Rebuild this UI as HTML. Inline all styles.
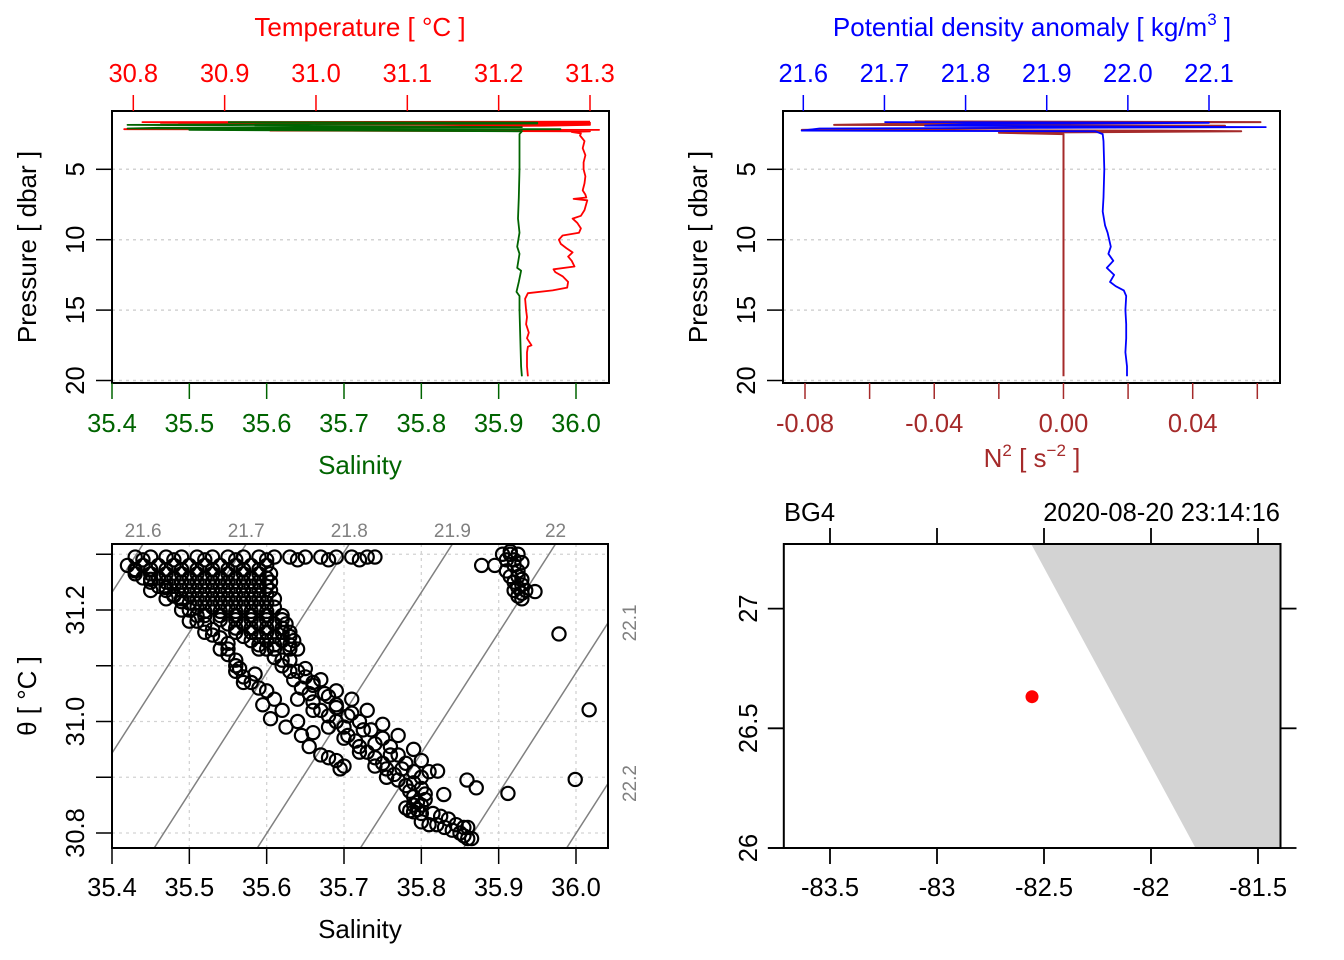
<!DOCTYPE html>
<html><head><meta charset="utf-8"><style>
html,body{margin:0;padding:0;background:#fff;width:1344px;height:960px;overflow:hidden}
svg{display:block;font-family:"Liberation Sans",Arial,sans-serif}
</style></head><body>
<svg id="fig" xmlns="http://www.w3.org/2000/svg" width="1344" height="960" viewBox="0 0 1344 960">
<g id="p1"></g>
<g id="p2"></g>
<g id="p3"></g>
<g id="p4"></g>
</svg>
<script>
// ---------- data ----------
const tempPressure = [1.62,1.65,1.68,1.7,1.72,1.75,1.78,1.8,1.85,1.9,2.15,2.2,2.25,2.3,2.35,2.45,2.6,3,3.5,4,4.5,5,5.5,6,6.5,6.8,7.0,7.1,7.2,7.9,8.3,8.5,8.8,9.2,9.5,9.7,10.0,10.3,10.6,10.9,11.2,11.5,11.9,12.1,12.3,12.6,13.0,13.4,13.6,13.8,14.2,15,15.5,16,16.6,17,17.5,17.6,18,19,19.7];
const tempValues = [31.30,30.81,31.30,30.83,31.30,30.85,31.30,31.00,31.30,31.25,30.79,31.31,30.95,31.30,31.28,31.29,31.289,31.294,31.292,31.295,31.293,31.293,31.295,31.294,31.292,31.295,31.296,31.282,31.297,31.294,31.29,31.281,31.286,31.29,31.288,31.27,31.266,31.268,31.274,31.281,31.276,31.28,31.283,31.26,31.262,31.27,31.276,31.275,31.259,31.232,31.229,31.23,31.231,31.23,31.233,31.231,31.236,31.232,31.231,31.231,31.232];
const salPressure = [1.65,1.68,1.7,1.75,1.8,1.85,2.0,2.05,2.1,2.15,2.2,2.3,2.5,3,5,7,8.5,9.5,10.5,11,12,12.2,13,13.7,14,15,17,19,19.7];
const salValues = [35.55,35.95,35.70,35.95,35.60,35.42,35.93,35.46,35.42,35.98,35.5,35.93,35.927,35.927,35.927,35.926,35.925,35.927,35.924,35.927,35.924,35.929,35.926,35.923,35.927,35.927,35.928,35.929,35.930];
const sigPressure = [1.65,1.7,1.8,1.9,2.0,2.05,2.1,2.25,2.3,2.5,3,5,7,8,9,9.5,10,10.5,11,11.5,12,12.5,13,13.3,13.6,14,15,16,17,18,19,19.7];
const sigValues = [21.70,22.10,21.80,21.75,22.17,21.90,21.62,21.598,21.96,21.969,21.970,21.971,21.970,21.969,21.972,21.975,21.977,21.979,21.976,21.982,21.974,21.983,21.978,21.985,21.995,21.998,21.997,21.998,21.998,21.997,21.999,21.999];
const n2Pressure = [1.6,1.65,1.7,1.85,1.9,2.2,2.25,2.3,2.4,2.5,3,19.7];
const n2Values = [-0.046,0.061,-0.03,-0.071,0.050,-0.081,0.03,0.055,-0.02,0,0,0];
// TS diagram observations (salinity, potential temperature)
const tsSalinity = [
35.43,35.45,35.47,35.49,35.51,35.53,35.55,35.57,35.59,35.61,35.63,35.65,35.67,35.69,35.71,35.73,35.74,
35.44,35.48,35.52,35.56,35.60,35.64,35.68,35.72,
35.42,35.44,35.46,35.48,35.50,35.52,35.54,35.56,35.58,35.60,
35.43,35.45,35.47,35.49,35.51,35.53,35.55,35.57,35.59,35.605,
35.45,35.47,35.49,35.51,35.53,35.55,35.57,35.59,35.605,
35.47,35.49,35.51,35.53,35.55,35.57,35.59,35.605,
35.49,35.51,35.53,35.55,35.57,35.59,35.61,
35.51,35.53,35.55,35.57,35.59,35.61,
35.52,35.54,35.56,35.58,35.60,35.62,
35.55,35.57,35.59,35.61,35.625,
35.56,35.58,35.60,35.62,35.63,
35.58,35.60,35.62,35.635,
35.59,35.61,35.63,35.64,
35.43,35.45,35.47,35.48,35.49,35.50,35.51,35.52,35.53,35.54,35.55,35.55,35.56,35.565,35.57,35.58,35.585,35.59,35.60,35.595,35.61,35.605,35.62,35.625,35.64,35.645,35.655,35.66,35.67,35.68,35.69,35.695,35.70,
35.45,35.47,35.49,35.51,35.53,35.55,35.56,35.50,35.52,35.54,35.56,35.57,
35.60,35.61,35.62,35.63,35.635,35.645,35.655,35.66,35.67,35.68,35.69,35.70,35.705,35.715,35.72,35.73,35.74,35.75,35.755,35.765,35.77,35.78,35.785,35.79,35.795,
35.65,35.66,35.68,35.69,35.71,35.72,35.735,35.75,35.76,35.77,35.78,35.79,35.80,
35.64,35.66,35.68,35.70,35.72,35.74,35.755,
35.62,35.64,35.66,35.675,35.69,35.705,35.725,35.74,35.76,35.775,35.79,
35.78,35.785,35.79,35.795,35.80,35.805,35.80,35.79,
35.80,35.81,35.82,35.83,35.84,35.85,35.855,35.86,35.865,35.815,35.825,35.835,35.845,35.855,35.86,
35.905,35.915,35.925,35.91,35.92,35.925,35.91,35.915,35.92,35.925,35.93,35.925,35.93,35.92,
35.878,35.895,35.947,35.978,36.017,35.999,35.912,35.859,35.871,35.821,35.829];
const tsTheta = [
31.295,31.295,31.295,31.295,31.295,31.295,31.295,31.295,31.295,31.295,31.295,31.295,31.295,31.295,31.295,31.295,31.295,
31.29,31.29,31.29,31.29,31.29,31.29,31.29,31.29,
31.28,31.28,31.28,31.28,31.28,31.28,31.28,31.28,31.28,31.28,
31.265,31.265,31.265,31.265,31.265,31.265,31.265,31.265,31.265,31.265,
31.25,31.25,31.25,31.25,31.25,31.25,31.25,31.25,31.25,
31.235,31.235,31.235,31.235,31.235,31.235,31.235,31.235,
31.22,31.22,31.22,31.22,31.22,31.22,31.22,
31.205,31.205,31.205,31.205,31.205,31.205,
31.19,31.19,31.19,31.19,31.19,31.19,
31.175,31.175,31.175,31.175,31.175,
31.16,31.16,31.16,31.16,31.16,
31.145,31.145,31.145,31.145,
31.13,31.13,31.13,31.13,
31.27,31.255,31.24,31.225,31.215,31.20,31.19,31.175,31.165,31.15,31.14,31.12,31.11,31.095,31.08,31.07,31.085,31.06,31.055,31.03,31.04,31.005,31.02,30.99,31.0,30.975,30.955,30.98,30.94,30.935,30.93,30.915,30.92,
31.235,31.22,31.20,31.18,31.155,31.13,31.10,31.18,31.16,31.13,31.09,31.07,
31.13,31.115,31.10,31.09,31.075,31.06,31.05,31.035,31.02,31.01,31.0,30.99,30.975,30.965,30.955,30.945,30.935,30.925,30.915,30.905,30.895,30.885,30.875,30.865,30.855,
31.08,31.07,31.045,31.03,31.015,31.0,30.985,30.97,30.955,30.94,30.925,30.91,30.90,
31.04,31.02,30.99,30.97,30.945,30.92,30.90,
31.11,31.09,31.065,31.05,31.025,31.01,30.985,30.96,30.94,30.915,30.89,
30.845,30.84,30.838,30.842,30.85,30.86,30.835,30.85,
30.82,30.815,30.815,30.81,30.805,30.80,30.795,30.79,30.79,30.835,30.83,30.825,30.815,30.81,30.81,
31.30,31.30,31.30,31.29,31.28,31.27,31.27,31.26,31.25,31.24,31.23,31.225,31.255,31.235,
31.28,31.28,31.233,31.157,31.021,30.896,30.871,30.895,30.881,30.911,30.869];
// additional TS observations (dense near-surface scans)
const tsSalinity2 = [
35.43,35.45,35.47,35.49,35.51,35.53,35.55,35.57,35.59,
35.44,35.46,35.48,35.50,35.52,35.54,35.56,35.58,35.60,
35.46,35.48,35.50,35.52,35.54,35.56,35.58,35.60,
35.48,35.50,35.52,35.54,35.56,35.58,35.60,
35.50,35.52,35.54,35.56,35.58,35.60,
35.52,35.54,35.56,35.58,35.60,
35.54,35.56,35.58,35.60,35.62,
35.56,35.58,35.60,35.62,
35.57,35.59,35.61,35.63,
35.59,35.61,35.63,
35.63,35.65,35.67,35.69,35.71,35.73,35.75,35.77,35.79,35.80,35.81,35.80,35.805,
35.915,35.92,35.93,35.925,35.93,35.935,35.93];
const tsTheta2 = [
31.2725,31.2725,31.2725,31.2725,31.2725,31.2725,31.2725,31.2725,31.2725,
31.2575,31.2575,31.2575,31.2575,31.2575,31.2575,31.2575,31.2575,31.2575,
31.2425,31.2425,31.2425,31.2425,31.2425,31.2425,31.2425,31.2425,
31.2275,31.2275,31.2275,31.2275,31.2275,31.2275,31.2275,
31.2125,31.2125,31.2125,31.2125,31.2125,31.2125,
31.1975,31.1975,31.1975,31.1975,31.1975,
31.1825,31.1825,31.1825,31.1825,31.1825,
31.1675,31.1675,31.1675,31.1675,
31.1525,31.1525,31.1525,31.1525,
31.1375,31.1375,31.1375,
31.11,31.095,31.075,31.055,31.04,31.02,30.995,30.975,30.95,30.93,30.91,30.88,30.87,
31.305,31.29,31.285,31.26,31.245,31.235,31.22];
const sigmaLevels = [21.6,21.7,21.8,21.9,22.0,22.1,22.2];
const sigmaLabels = ["21.6","21.7","21.8","21.9","22","22.1","22.2"];
const stationLon = [-82.556];
const stationLat = [26.632];
const coastLon = [-82.56,-81.395,-81.395,-81.792];
const coastLat = [27.27,27.27,26.0,26.0];
const salTicks = [35.4,35.5,35.6,35.7,35.8,35.9,36.0];
const tempTicks = [30.8,30.9,31.0,31.1,31.2,31.3];
const presTicks = [5,10,15,20];
const sigTicks = [21.6,21.7,21.8,21.9,22.0,22.1];
const n2Ticks = [-0.08,-0.06,-0.04,-0.02,0,0.02,0.04,0.06];
const n2Labels = {"-0.08":"-0.08","-0.04":"-0.04","0":"0.00","0.04":"0.04"};
const thetaTicks = [30.8,30.9,31.0,31.1,31.2,31.3];
const lonTicks = [-83.5,-83,-82.5,-82,-81.5];
const latTicks = [26,26.5,27];

// ---------- helpers ----------
const NS="http://www.w3.org/2000/svg";
function mk(parent,tag,attrs,text){const e=document.createElementNS(NS,tag);for(const k in attrs)e.setAttribute(k,attrs[k]);if(text!==undefined)e.textContent=text;parent.appendChild(e);return e;}
function lin(d0,d1,r0,r1){return v=>r0+(v-d0)*(r1-r0)/(d1-d0);}
const RED="#ff0000",GRN="#006400",BLU="#0000ff",BRN="#a52a2a",GRY="#808080";
const FS=25.5, TFS=26;

// ===== Panel 1 =====
(function(){
const g=document.getElementById('p1');
const X0=112,X1=609,Y0=111,Y1=383;
const sx=lin(35.4,36.0,112,576), tx=lin(30.8,31.3,133.3,590), py=lin(5,20,169.3,380.5);
let e;
presTicks.forEach(p=>{e=mk(g,'line',{x1:X0,x2:X1,y1:py(p),y2:py(p),stroke:'#d3d3d3','stroke-width':1.5,'stroke-dasharray':'3 4'});
});
let d=tempPressure.map((p,i)=>(i?'L':'M')+tx(tempValues[i]).toFixed(1)+','+py(p).toFixed(1)).join('');
e=mk(g,'path',{d:d,fill:'none',stroke:RED,'stroke-width':1.8,'stroke-linejoin':'round'});

d=salPressure.map((p,i)=>(i?'L':'M')+sx(salValues[i]).toFixed(1)+','+py(p).toFixed(1)).join('');
e=mk(g,'path',{d:d,fill:'none',stroke:GRN,'stroke-width':1.8,'stroke-linejoin':'round'});

e=mk(g,'rect',{x:X0,y:Y0,width:X1-X0,height:Y1-Y0,fill:'none',stroke:'#000','stroke-width':2});

salTicks.forEach(s=>{mk(g,'line',{x1:sx(s),x2:sx(s),y1:Y1,y2:Y1+16,stroke:GRN,'stroke-width':1.5});
e=mk(g,'text',{x:sx(s),y:432,'text-anchor':'middle','font-size':FS,fill:GRN},s.toFixed(1));
});
e=mk(g,'text',{x:360,y:474,'text-anchor':'middle','font-size':TFS,fill:GRN},'Salinity');

tempTicks.forEach(t=>{mk(g,'line',{x1:tx(t),x2:tx(t),y1:Y0,y2:Y0-16,stroke:RED,'stroke-width':1.5});
e=mk(g,'text',{x:tx(t),y:82,'text-anchor':'middle','font-size':FS,fill:RED},t.toFixed(1));
});
e=mk(g,'text',{x:360,y:36,'text-anchor':'middle','font-size':TFS,fill:RED},'Temperature [ °C ]');

presTicks.forEach(p=>{mk(g,'line',{x1:X0,x2:X0-16,y1:py(p),y2:py(p),stroke:'#000','stroke-width':1.5});
e=mk(g,'text',{x:84,y:py(p),'text-anchor':'middle','font-size':FS,transform:`rotate(-90 84 ${py(p)})`},String(p));
});
e=mk(g,'text',{x:36,y:247,'text-anchor':'middle','font-size':TFS,transform:'rotate(-90 36 247)'},'Pressure [ dbar ]');

})();

// ===== Panel 2 =====
(function(){
const g=document.getElementById('p2');
const X0=783,X1=1280,Y0=111,Y1=383;
const sgx=lin(21.6,22.1,803.3,1209), nx=lin(-0.08,0.04,805,1192.7), py=lin(5,20,169.3,380.5);
let e;
presTicks.forEach(p=>{e=mk(g,'line',{x1:X0,x2:X1,y1:py(p),y2:py(p),stroke:'#d3d3d3','stroke-width':1.5,'stroke-dasharray':'3 4'});
});
let d=n2Pressure.map((p,i)=>(i?'L':'M')+nx(n2Values[i]).toFixed(1)+','+py(p).toFixed(1)).join('');
e=mk(g,'path',{d:d,fill:'none',stroke:BRN,'stroke-width':2,'stroke-linejoin':'round'});

d=sigPressure.map((p,i)=>(i?'L':'M')+sgx(sigValues[i]).toFixed(1)+','+py(p).toFixed(1)).join('');
e=mk(g,'path',{d:d,fill:'none',stroke:BLU,'stroke-width':1.8,'stroke-linejoin':'round'});

e=mk(g,'rect',{x:X0,y:Y0,width:X1-X0,height:Y1-Y0,fill:'none',stroke:'#000','stroke-width':2});

n2Ticks.forEach(v=>{mk(g,'line',{x1:nx(v),x2:nx(v),y1:Y1,y2:Y1+16,stroke:BRN,'stroke-width':1.5});
const lab=n2Labels[String(v)];
if(lab){e=mk(g,'text',{x:nx(v),y:432,'text-anchor':'middle','font-size':FS,fill:BRN},lab);
}});
e=mk(g,'text',{x:1032,y:467,'text-anchor':'middle','font-size':TFS,fill:BRN});
e.innerHTML='N<tspan dy="-11" font-size="17">2</tspan><tspan dy="11"> [ s</tspan><tspan dy="-11" font-size="17">−2</tspan><tspan dy="11"> ]</tspan>';

sigTicks.forEach(t=>{mk(g,'line',{x1:sgx(t),x2:sgx(t),y1:Y0,y2:Y0-16,stroke:BLU,'stroke-width':1.5});
e=mk(g,'text',{x:sgx(t),y:82,'text-anchor':'middle','font-size':FS,fill:BLU},t.toFixed(1));
});
e=mk(g,'text',{x:1032,y:36,'text-anchor':'middle','font-size':TFS,fill:BLU});
e.innerHTML='Potential density anomaly [ kg/m<tspan dy="-11" font-size="17">3</tspan><tspan dy="11"> ]</tspan>';

presTicks.forEach(p=>{mk(g,'line',{x1:X0,x2:X0-16,y1:py(p),y2:py(p),stroke:'#000','stroke-width':1.5});
e=mk(g,'text',{x:755,y:py(p),'text-anchor':'middle','font-size':FS,transform:`rotate(-90 755 ${py(p)})`},String(p));
});
e=mk(g,'text',{x:707,y:247,'text-anchor':'middle','font-size':TFS,transform:'rotate(-90 707 247)'},'Pressure [ dbar ]');

})();

// ===== Panel 3 : TS =====
(function(){
const g=document.getElementById('p3');
const X0=112,X1=608,Y0=544,Y1=848;
const sx=lin(35.4,36.0,112,576), ty=lin(31.2,30.8,610,833);
const Smin=35.4+(X0-112)/773.3, Smax=35.4+(X1-112)/773.3, Tmax=31.2+(610-Y0)/557.5;
let e;
const cp=mk(g,'clipPath',{id:'tsclip'});mk(cp,'rect',{x:X0,y:Y0,width:X1-X0,height:Y1-Y0});
salTicks.forEach(s=>{e=mk(g,'line',{x1:sx(s),x2:sx(s),y1:Y0,y2:Y1,stroke:'#d3d3d3','stroke-width':1.3,'stroke-dasharray':'3 4'});
});
thetaTicks.forEach(t=>{e=mk(g,'line',{x1:X0,x2:X1,y1:ty(t),y2:ty(t),stroke:'#d3d3d3','stroke-width':1.3,'stroke-dasharray':'3 4'});
});
// isopycnals (linearised equation of state)
const Tof=(s,S)=>31.318-(s-21.6-0.75*(S-35.440))/0.347;
const cg=mk(g,'g',{'clip-path':'url(#tsclip)'});
sigmaLevels.forEach((s,i)=>{
 const Ta=Tof(s,Smin-0.5),Tb=Tof(s,Smax+0.5);
 e=mk(cg,'line',{x1:sx(Smin-0.5),y1:ty(Ta),x2:sx(Smax+0.5),y2:ty(Tb),stroke:GRY,'stroke-width':1.5});
 
 const Stop=35.440+(s-21.6+0.347*(Tmax-31.318))/0.75;
 if(Stop<=Smax){e=mk(g,'text',{x:sx(Stop),y:537,'text-anchor':'middle','font-size':19,fill:GRY},sigmaLabels[i]);}
 else{const yr=ty(Tof(s,Smax));e=mk(g,'text',{x:636,y:yr,'text-anchor':'middle','font-size':19,fill:GRY,transform:`rotate(-90 636 ${yr})`},sigmaLabels[i]);}
 
});
const pg=mk(g,'g',{'clip-path':'url(#tsclip)'});
tsSalinity.forEach((s,i)=>{e=mk(pg,'circle',{cx:sx(s),cy:ty(tsTheta[i]),r:6.6,fill:'none',stroke:'#000','stroke-width':2.2});
});
tsSalinity2.forEach((s,i)=>{e=mk(pg,'circle',{cx:sx(s),cy:ty(tsTheta2[i]),r:6.6,fill:'none',stroke:'#000','stroke-width':2.2});
});
e=mk(g,'rect',{x:X0,y:Y0,width:X1-X0,height:Y1-Y0,fill:'none',stroke:'#000','stroke-width':2});

salTicks.forEach(s=>{mk(g,'line',{x1:sx(s),x2:sx(s),y1:Y1,y2:Y1+16,stroke:'#000','stroke-width':1.5});
e=mk(g,'text',{x:sx(s),y:896,'text-anchor':'middle','font-size':FS},s.toFixed(1));
});
e=mk(g,'text',{x:360,y:938,'text-anchor':'middle','font-size':TFS},'Salinity');

thetaTicks.forEach((t,i)=>{mk(g,'line',{x1:X0,x2:X0-16,y1:ty(t),y2:ty(t),stroke:'#000','stroke-width':1.5});
if(i%2===0){e=mk(g,'text',{x:84,y:ty(t),'text-anchor':'middle','font-size':FS,transform:`rotate(-90 84 ${ty(t)})`},t.toFixed(1));
}});
e=mk(g,'text',{x:36,y:696,'text-anchor':'middle','font-size':TFS,transform:'rotate(-90 36 696)'},'θ [ °C ]');

})();

// ===== Panel 4 : map =====
(function(){
const g=document.getElementById('p4');
const X0=783.8,X1=1280.5,Y0=544,Y1=848;
const lx=lin(-83.5,-81.5,830,1258), ly=lin(26,27,848,608.6);
let e;
e=mk(g,'polygon',{points:coastLon.map((v,i)=>lx(v).toFixed(1)+','+ly(coastLat[i]).toFixed(1)).join(' '),fill:'#d3d3d3',stroke:'none'});

stationLon.forEach((v,i)=>{e=mk(g,'ellipse',{cx:lx(v),cy:ly(stationLat[i]),rx:6.5,ry:6.5,fill:RED});
});
e=mk(g,'rect',{x:X0,y:Y0,width:X1-X0,height:Y1-Y0,fill:'none',stroke:'#000','stroke-width':2});

lonTicks.forEach(v=>{mk(g,'line',{x1:lx(v),x2:lx(v),y1:Y1,y2:Y1+16,stroke:'#000','stroke-width':1.8});
mk(g,'line',{x1:lx(v),x2:lx(v),y1:Y0,y2:Y0-16,stroke:'#000','stroke-width':1.8});
e=mk(g,'text',{x:lx(v),y:896,'text-anchor':'middle','font-size':FS},String(v));
});
mk(g,'line',{x1:768,x2:X0,y1:Y1,y2:Y1,stroke:'#000','stroke-width':1.8});
latTicks.forEach(v=>{mk(g,'line',{x1:X0,x2:X0-16,y1:ly(v),y2:ly(v),stroke:'#000','stroke-width':1.8});
mk(g,'line',{x1:X1,x2:X1+16,y1:ly(v),y2:ly(v),stroke:'#000','stroke-width':1.8});
e=mk(g,'text',{x:757,y:ly(v),'text-anchor':'middle','font-size':FS,transform:`rotate(-90 757 ${ly(v)})`},String(v));
});
e=mk(g,'text',{x:784,y:521,'font-size':FS},'BG4');

e=mk(g,'text',{x:1280,y:521,'text-anchor':'end','font-size':FS},'2020-08-20 23:14:16');

})();
</script>
</body></html>
